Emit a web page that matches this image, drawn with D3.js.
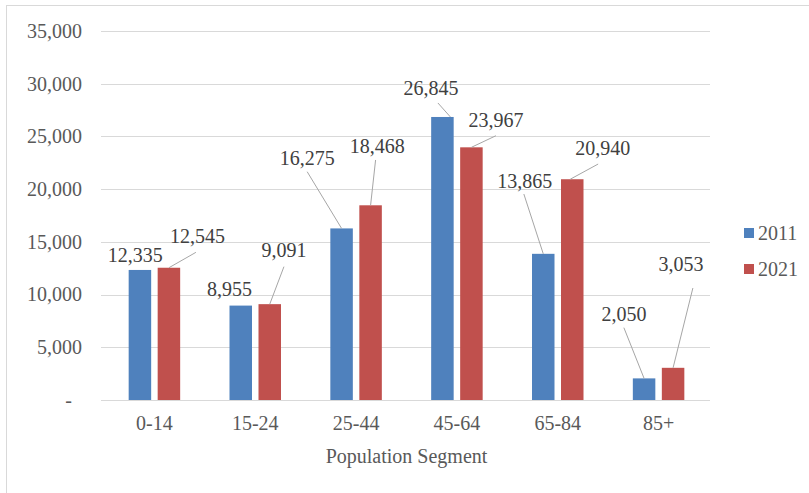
<!DOCTYPE html>
<html>
<head>
<meta charset="utf-8">
<script src="https://cdn.jsdelivr.net/npm/d3@7"></script>
<style>
  html, body { margin: 0; padding: 0; background: #fff; }
  svg { display: block; }
</style>
</head>
<body>
<svg id="chart" width="809" height="493"></svg>
<script>
// ---- data ----
const categories = ["0-14", "15-24", "25-44", "45-64", "65-84", "85+"];
const seriesNames = ["2011", "2021"];
const values2011 = [12335, 8955, 16275, 26845, 13865, 2050];
const values2021 = [12545, 9091, 18468, 23967, 20940, 3053];
const yTicks = [0, 5000, 10000, 15000, 20000, 25000, 30000, 35000];
const xAxisTitle = "Population Segment";

// ---- layout (label placement, pixels relative to bar top centre) ----
// [textDx, textDy, [lineStartDx, lineEndDx, lineEndDy]] ; lineEnd relative to text anchor; null = no leader line
const labelLayout2011 = [
  [-4.7, -8.3, null],
  [-11.3, -9.6, null],
  [-34.4, -63.4, [0, 0, 6.7]],
  [-11.5, -22, [8, 7, 8]],
  [-18.4, -65.5, [0, -1, 5.7]],
  [-20.2, -57.4, [0, 0, 6.7]]
];
const labelLayout2021 = [
  [28.5, -24.4, [0, -1.5, 9]],
  [14.2, -46.9, [0, 0, 9.4]],
  [6.6, -52, [0, -1.6, 6.7]],
  [24.5, -20.6, [0, 0, 9]],
  [30.6, -24.2, [-2, -4.7, 9]],
  [7.8, -96.8, [0, 12, 17]]
];

const FONT = "'Liberation Serif'";
const colors = ["#4f81bd", "#c0504d"];
const svg = d3.select("#chart").style("font-family", FONT);

// chart border
svg.append("rect")
  .attr("x", 6.5).attr("y", 5.5)
  .attr("width", 900).attr("height", 600)
  .attr("fill", "#fff").attr("stroke", "#d9d9d9").attr("stroke-width", 1);

const x0 = 104, x1 = 709, yTop = 31, yBot = 400;

const x = d3.scaleBand().domain(categories).range([x0, x1]).paddingInner(0).paddingOuter(0);
const y = d3.scaleLinear().domain([0, 35000]).range([yBot, yTop]);
const barW = 22.5, barGap = 6.5;

// gridlines
const grid = svg.append("g");
grid.selectAll("line").data(yTicks).join("line")
  .attr("x1", x0 - 3).attr("x2", x1 + 1)
  .attr("y1", d => Math.round(y(d)) + 0.5).attr("y2", d => Math.round(y(d)) + 0.5)
  .attr("stroke", "#d9d9d9").attr("stroke-width", 1);

// y axis
const yAxis = d3.axisLeft(y).tickValues(yTicks).tickSize(0).tickPadding(0)
  .tickFormat(d => d === 0 ? "-" : d3.format(",")(d));
const gy = svg.append("g").attr("transform", "translate(82,0)").call(yAxis);
gy.attr("font-family", null).attr("font-size", null);
gy.select(".domain").remove();
gy.selectAll("text")
  .style("font-family", FONT).style("font-size", "20px").attr("fill", "#595959")
  .attr("dy", "0.32em")
  .attr("x", d => d === 0 ? -10 : 0);

// x axis
const xAxis = d3.axisBottom(x).tickSize(0).tickPadding(0);
const gx = svg.append("g").attr("transform", `translate(0,${yBot})`).call(xAxis);
gx.attr("font-family", null).attr("font-size", null);
gx.select(".domain").remove();
gx.selectAll("text")
  .style("font-family", FONT).style("font-size", "20px").attr("fill", "#595959")
  .attr("dy", 0).attr("y", 30);

// x axis title
svg.append("text")
  .attr("x", (x0 + x1) / 2).attr("y", 463)
  .attr("text-anchor", "middle")
  .style("font-family", FONT).style("font-size", "20px").attr("fill", "#595959")
  .text(xAxisTitle);

// bars + labels
const series = [
  { name: seriesNames[0], values: values2011, layout: labelLayout2011, color: colors[0], off: -(barW + barGap) / 2 },
  { name: seriesNames[1], values: values2021, layout: labelLayout2021, color: colors[1], off: (barW + barGap) / 2 }
];
const fmt = d3.format(",");

series.forEach(s => {
  const g = svg.append("g");
  const rows = categories.map((c, i) => ({ c, v: s.values[i], lay: s.layout[i] }));
  const cx = d => x(d.c) + x.bandwidth() / 2 + s.off;

  g.selectAll("rect").data(rows).join("rect")
    .attr("x", d => cx(d) - barW / 2)
    .attr("y", d => y(d.v))
    .attr("width", barW)
    .attr("height", d => y(0) - y(d.v))
    .attr("fill", s.color);

  // leader lines
  g.selectAll("line.leader").data(rows.filter(d => d.lay[2])).join("line")
    .attr("class", "leader")
    .attr("x1", d => cx(d) + d.lay[2][0])
    .attr("y1", d => y(d.v))
    .attr("x2", d => cx(d) + d.lay[0] + d.lay[2][1])
    .attr("y2", d => y(d.v) + d.lay[1] + d.lay[2][2])
    .attr("stroke", "#a6a6a6").attr("stroke-width", 1);

  g.selectAll("text.lbl").data(rows).join("text")
    .attr("class", "lbl")
    .attr("x", d => cx(d) + d.lay[0])
    .attr("y", d => y(d.v) + d.lay[1])
    .attr("text-anchor", "middle")
    .style("font-family", FONT).style("font-size", "20px")
    .attr("fill", "#404040")
    .text(d => fmt(d.v));
});

// legend
const leg = svg.append("g").attr("transform", "translate(744,228)");
seriesNames.forEach((n, i) => {
  const row = leg.append("g").attr("transform", `translate(0,${i * 36})`);
  row.append("rect").attr("width", 10).attr("height", 10).attr("fill", colors[i]);
  row.append("text").attr("x", 14).attr("y", 5).attr("dy", "0.35em")
    .style("font-family", FONT).style("font-size", "20px")
    .attr("fill", "#595959").text(n);
});
</script>
</body>
</html>
